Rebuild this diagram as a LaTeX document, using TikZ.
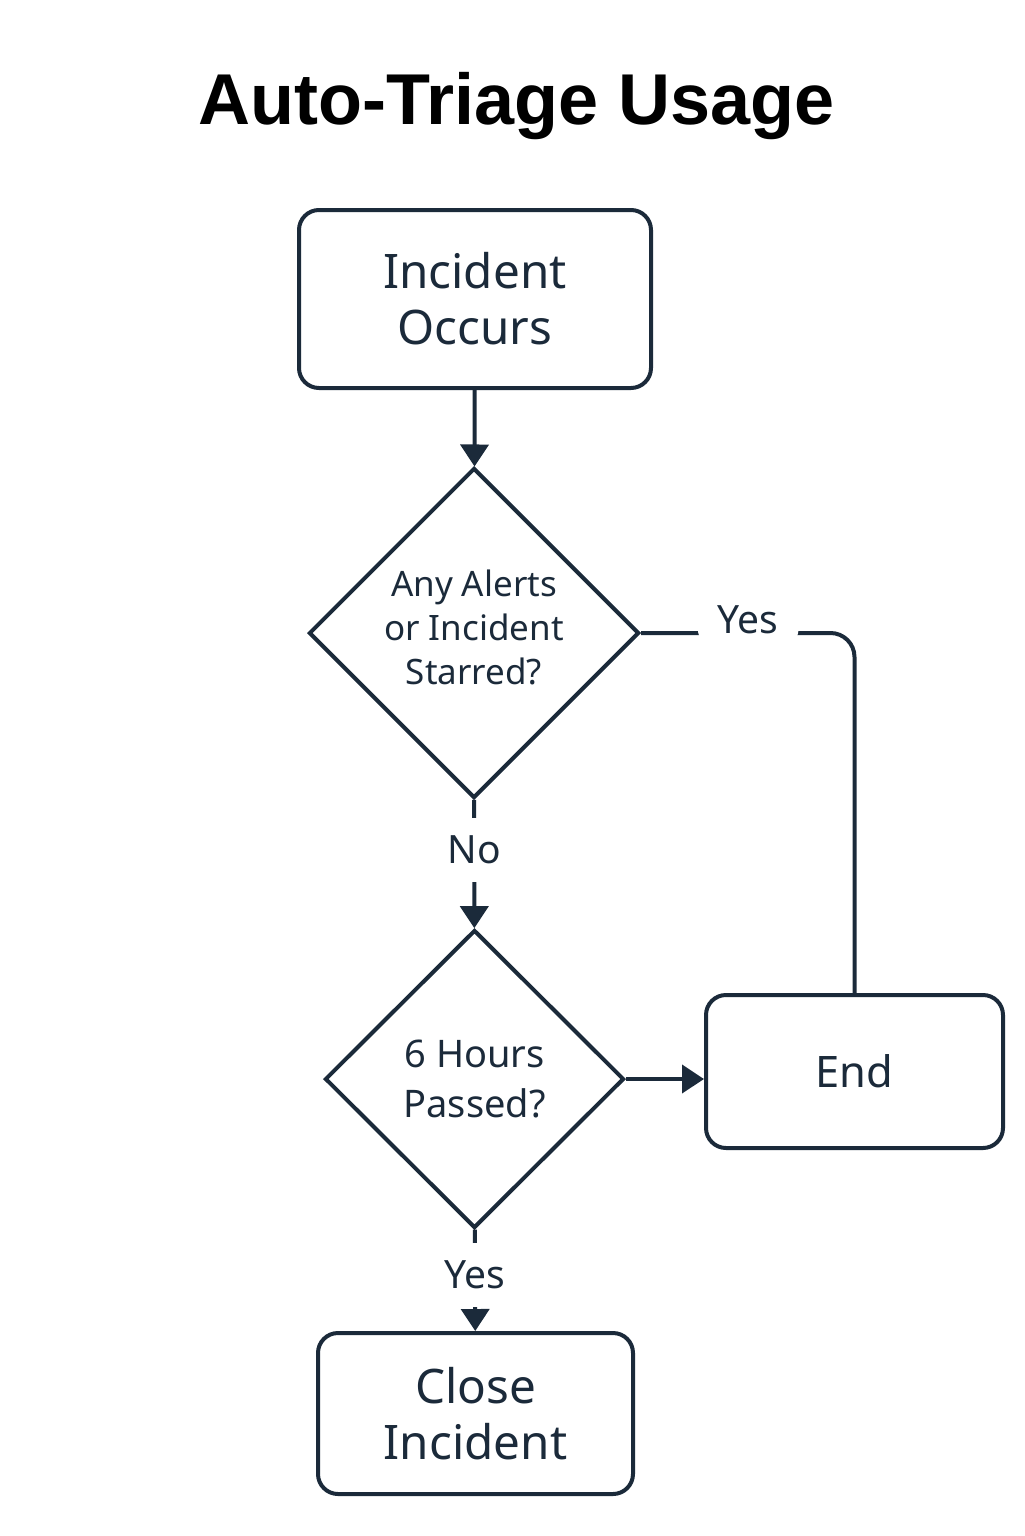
\documentclass[tikz,border=0pt]{standalone}
\usepackage{fontspec}
\setmainfont{Noto Sans}
\newfontfamily\titlefont{Liberation Sans}
\usetikzlibrary{shapes.geometric,arrows.meta}
\definecolor{ink}{HTML}{1B2A3A}

\begin{document}
\begin{tikzpicture}[x=0.5pt,y=-0.5pt,line width=2pt,draw=ink,text=ink,
        box/.style={draw,rounded corners=10pt,align=center,inner sep=0pt,
                font=\fontsize{23.8}{28}\selectfont},
        test/.style={draw,diamond,aspect=1,inner sep=0pt,align=center},
        lbl/.style={fill=white,inner xsep=10pt,inner ysep=9pt,
                font=\fontsize{19.5}{22}\selectfont},
        arr/.style={-{Triangle[length=11pt,width=14pt]}}]
        \useasboundingbox (0,0) rectangle (1024,1536);
        \node[anchor=base,text=black,font=\titlefont\bfseries\fontsize{36}{40}\selectfont]
                (title) at (517,125) {Auto-Triage Usage};
        % boxes and tests
        \node[box,minimum width=176pt,minimum height=89pt] (occurs) at (475,299) {Incident\\Occurs};
        \node[test,minimum width=165pt,minimum height=165pt,
                font=\fontsize{17.5}{22}\selectfont] (starred) at (474,633)
                {Any Alerts\\or Incident\\Starred?\rule[-6pt]{0pt}{0pt}};
        \node[test,minimum width=149.5pt,minimum height=149pt,
                font=\fontsize{19}{25}\selectfont] (hours) at (474.5,1079) {6 Hours\\Passed?};
        \node[box,minimum width=148.5pt,minimum height=76.5pt,
                font=\fontsize{21.7}{26}\selectfont] (end) at (854.5,1071.5) {End};
        \node[box,minimum width=157.5pt,minimum height=80.5pt] (close) at (475.5,1413.5) {Close\\Incident};
        % connectors
        \draw[arr] (occurs) -- (starred);
        \draw[arr] (starred) -- node[lbl,pos=0.39] {No} (hours);
        \draw[rounded corners=12pt] (starred.east) -| node[lbl,pos=0.251,yshift=6.5pt] {Yes} (end.north);
        \draw[arr] (hours.east) -- (hours.east -| end.west);
        \draw[arr] (hours) -- node[lbl,pos=0.45] {Yes} (close);
\end{tikzpicture}
\end{document}
